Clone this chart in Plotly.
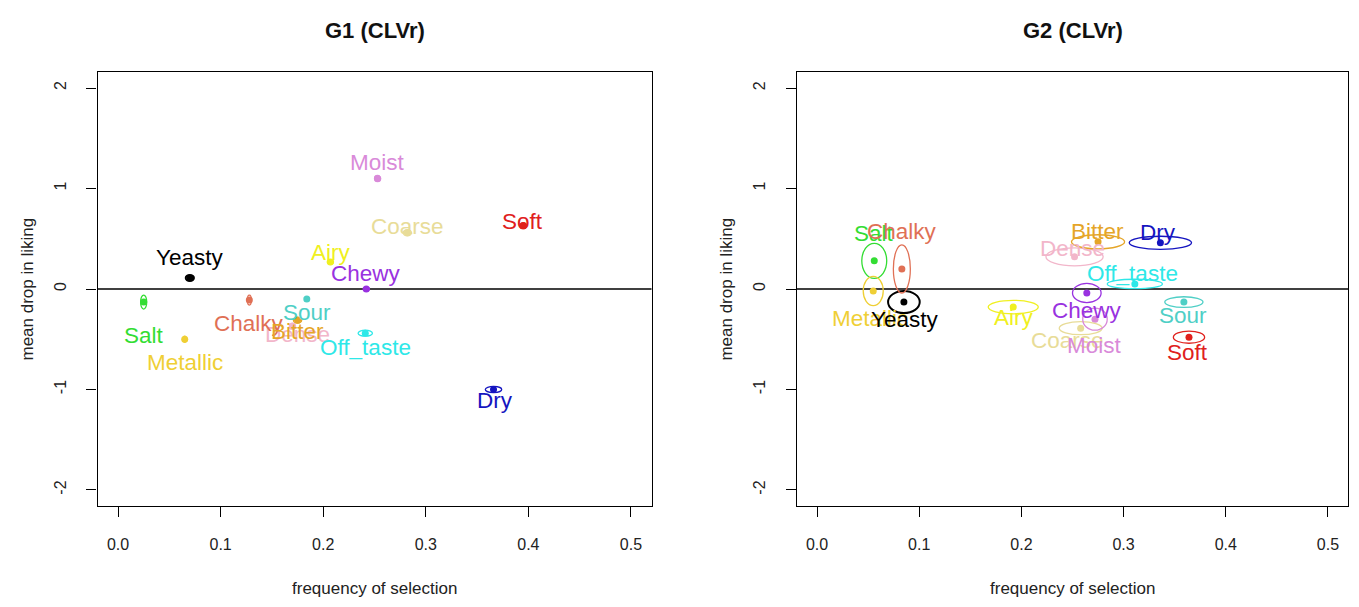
import plotly.graph_objects as go

# ---------------- data ----------------
attributes = ["Salt", "Metallic", "Dense", "Coarse", "Yeasty", "Chalky", "Airy",
              "Bitter", "Sour", "Chewy", "Moist", "Off_taste", "Soft", "Dry"]

# G1 (CLVr): frequency of selection / mean drop in liking
g1_freq = [0.025, 0.065, 0.170, 0.282, 0.070, 0.128, 0.207,
           0.175, 0.184, 0.242, 0.253, 0.241, 0.395, 0.366]
g1_drop = [-0.13, -0.50, -0.37, 0.56, 0.11, -0.11, 0.27,
           -0.31, -0.10, 0.00, 1.10, -0.44, 0.63, -1.00]
g1_sd_freq = [0.003, 0.0015, 0.003, 0.004, 0.004, 0.002, 0.003,
              0.004, 0.002, 0.003, 0.003, 0.007, 0.003, 0.008]
g1_sd_drop = [0.07, 0.03, 0.03, 0.03, 0.03, 0.05, 0.02,
              0.03, 0.02, 0.02, 0.03, 0.03, 0.03, 0.03]

# G2 (CLVr)
g2_freq = [0.056, 0.055, 0.252, 0.258, 0.085, 0.083, 0.192,
           0.275, 0.359, 0.264, 0.272, 0.311, 0.364, 0.336]
g2_drop = [0.28, -0.02, 0.32, -0.39, -0.13, 0.20, -0.18,
           0.47, -0.13, -0.04, -0.30, 0.05, -0.48, 0.46]
g2_sd_freq = [0.0122, 0.0098, 0.028, 0.021, 0.0155, 0.0083, 0.0245,
              0.026, 0.0187, 0.014, 0.012, 0.027, 0.0153, 0.0305]
g2_sd_drop = [0.175, 0.145, 0.09, 0.065, 0.11, 0.24, 0.067,
              0.07, 0.053, 0.095, 0.11, 0.047, 0.06, 0.065]

x_ticks = [0.0, 0.1, 0.2, 0.3, 0.4, 0.5]
x_tick_text = ["0.0", "0.1", "0.2", "0.3", "0.4", "0.5"]
y_ticks = [-2, -1, 0, 1, 2]
y_tick_text = ["-2", "-1", "0", "1", "2"]

# ---------------- styles ----------------
colors = {
    "Salt": "#33DD33", "Metallic": "#EFCF35", "Dense": "#F2B6CA", "Coarse": "#E8DC98",
    "Yeasty": "#000000", "Chalky": "#E07055", "Airy": "#F0F020", "Bitter": "#E5A528",
    "Sour": "#4FCFC6", "Chewy": "#9932E0", "Moist": "#D98AD9", "Off_taste": "#2EE8E8",
    "Soft": "#E0201C", "Dry": "#1515C0",
}
# label offsets in pixels (xshift, yshift)
g1_label_shift = {
    "Salt": (0, -33), "Metallic": (0, -23), "Dense": (5, -8), "Coarse": (0, 6),
    "Yeasty": (0, 20), "Chalky": (0, -23), "Airy": (0, 9), "Bitter": (0, -11),
    "Sour": (0, -13), "Chewy": (0, 16), "Moist": (0, 16), "Off_taste": (0, -14),
    "Soft": (-1, 4), "Dry": (1, -11),
}
g2_label_shift = {
    "Salt": (0, 27), "Metallic": (-3, -27), "Dense": (-2, 8), "Coarse": (-13, -12),
    "Yeasty": (1, -17), "Chalky": (0, 37), "Airy": (0, -10), "Bitter": (-1, 10),
    "Sour": (-1, -13), "Chewy": (0, -17), "Moist": (0, -26), "Off_taste": (-2, 10),
    "Soft": (-1, -15), "Dry": (-2, 10),
}

FONT = "Liberation Sans, Arial, sans-serif"
W, H = 1359, 607
dom_x1 = [97.5 / W, 651.5 / W]
dom_x2 = [796.6 / W, 1348.4 / W]
dom_y = [1 - 506 / H, 1 - 72 / H]

fig = go.Figure()
shapes = []
annotations = []

panels = [
    ("x", "y", g1_freq, g1_drop, g1_sd_freq, g1_sd_drop, g1_label_shift, dom_x1, "G1 (CLVr)"),
    ("x2", "y2", g2_freq, g2_drop, g2_sd_freq, g2_sd_drop, g2_label_shift, dom_x2, "G2 (CLVr)"),
]

for xr, yr, fx, dy, sx, sy, shifts, dom, title in panels:
    # ellipses
    for a, x, y, ex, ey in zip(attributes, fx, dy, sx, sy):
        shapes.append(dict(type="circle", xref=xr, yref=yr,
                           x0=x - ex, x1=x + ex, y0=y - ey, y1=y + ey,
                           line=dict(color=colors[a], width=2 if a == "Yeasty" else 1.3),
                           layer="above"))
    # zero line
    shapes.append(dict(type="line", xref=xr + " domain", yref=yr, x0=0, x1=1, y0=0, y1=0,
                       line=dict(color="black", width=1.5), layer="below"))
    # points
    fig.add_trace(go.Scatter(x=fx, y=dy, mode="markers", xaxis=xr, yaxis=yr,
                             marker=dict(size=7, color=[colors[a] for a in attributes],
                                         line=dict(width=0)),
                             text=attributes, hoverinfo="text", showlegend=False))
    # labels
    for a, x, y in zip(attributes, fx, dy):
        xs, ys = shifts[a]
        annotations.append(dict(x=x, y=y, xref=xr, yref=yr, text=a, showarrow=False,
                                xshift=xs, yshift=ys,
                                font=dict(family=FONT, size=22.5, color=colors[a])))
    cx = (dom[0] + dom[1]) / 2
    # panel title
    annotations.append(dict(x=cx, y=1 - 30 / H, xref="paper", yref="paper",
                            text="<b>" + title + "</b>", showarrow=False,
                            xanchor="center", yanchor="middle",
                            font=dict(family=FONT, size=22, color="#111")))
    # x title
    annotations.append(dict(x=cx, y=1 - 588 / H, xref="paper", yref="paper",
                            text="frequency of selection", showarrow=False,
                            xanchor="center", yanchor="middle",
                            font=dict(family=FONT, size=17, color="#222")))
    # y title
    annotations.append(dict(x=dom[0] - 71 / W, y=1 - 289 / H, xref="paper", yref="paper",
                            text="mean drop in liking", showarrow=False, textangle=-90,
                            xanchor="center", yanchor="middle",
                            font=dict(family=FONT, size=17, color="#222")))

axis_common = dict(showline=True, mirror=True, linecolor="black", linewidth=1.2,
                   ticks="outside", ticklen=10, tickcolor="black", tickwidth=1.2,
                   showgrid=False, zeroline=False,
                   tickfont=dict(family=FONT, size=16, color="#222"))

xa = dict(axis_common, range=[-0.02, 0.52], tickvals=x_ticks, ticktext=x_tick_text,
          ticklabelstandoff=14)
ya = dict(axis_common, range=[-2.16, 2.16], tickvals=y_ticks, ticktext=y_tick_text,
          tickangle=-90, ticklabelstandoff=14)

fig.update_layout(
    width=W, height=H,
    margin=dict(l=0, r=0, t=0, b=0),
    paper_bgcolor="white", plot_bgcolor="white",
    xaxis=dict(xa, domain=dom_x1, anchor="y"),
    yaxis=dict(ya, domain=dom_y, anchor="x"),
    xaxis2=dict(xa, domain=dom_x2, anchor="y2"),
    yaxis2=dict(ya, domain=dom_y, anchor="x2"),
    shapes=shapes,
    annotations=annotations,
    font=dict(family=FONT),
)

fig.write_html("out.html")
